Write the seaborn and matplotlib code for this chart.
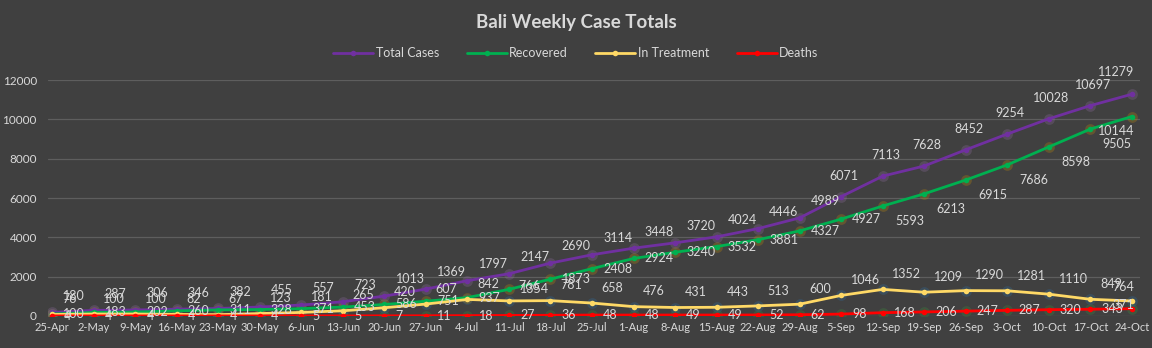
import matplotlib
matplotlib.use("Agg")
import matplotlib.pyplot as plt
import seaborn as sns
import pandas as pd

dates = ["25-Apr", "2-May", "9-May", "16-May", "23-May", "30-May", "6-Jun", "13-Jun",
         "20-Jun", "27-Jun", "4-Jul", "11-Jul", "18-Jul", "25-Jul", "1-Aug", "8-Aug",
         "15-Aug", "22-Aug", "29-Aug", "5-Sep", "12-Sep", "19-Sep", "26-Sep", "3-Oct",
         "10-Oct", "17-Oct", "24-Oct"]
total_cases = [180, 287, 306, 346, 382, 455, 557, 723, 1013, 1369, 1797, 2147, 2690, 3114,
               3448, 3720, 4024, 4446, 4989, 6071, 7113, 7628, 8452, 9254, 10028, 10697, 11279]
recovered = [100, 183, 202, 260, 311, 328, 371, 453, 586, 751, 937, 1354, 1873, 2408,
             2924, 3240, 3532, 3881, 4327, 4927, 5593, 6213, 6915, 7686, 8598, 9505, 10144]
in_treatment = [76, 100, 100, 82, 67, 123, 181, 265, 420, 607, 842, 766, 781, 658,
                476, 431, 443, 513, 600, 1046, 1352, 1209, 1290, 1281, 1110, 849, 764]
deaths = [4, 4, 4, 4, 4, 4, 5, 5, 7, 11, 18, 27, 36, 48,
          48, 49, 49, 52, 62, 98, 168, 206, 247, 287, 320, 343, 371]
series_names = ["Total Cases", "Recovered", "In Treatment", "Deaths"]

BG = "#404040"
TXT = "#d9d9d9"
colors = {"Total Cases": "#7030a0", "Recovered": "#00b050",
          "In Treatment": "#ffd966", "Deaths": "#ff0000"}
glows = {"Total Cases": "#8a6a9a", "Recovered": "#b8860b",
         "In Treatment": "#2f6da0", "Deaths": "#3a8a3a"}

rows = []
for name, vals in zip(series_names, [total_cases, recovered, in_treatment, deaths]):
    for i, (d, v) in enumerate(zip(dates, vals)):
        rows.append({"idx": i, "date": d, "value": v, "series": name})
df = pd.DataFrame(rows)

sns.set_theme(style="dark")
plt.rcParams["font.family"] = ["Lato", "DejaVu Sans"]

fig = plt.figure(figsize=(11.52, 3.48), dpi=100, facecolor=BG)
ax = fig.add_axes([0.0417, 0.092, 0.948, 0.678])
ax.set_facecolor(BG)

# glow behind markers
for name in series_names[::-1]:
    sub = df[df.series == name]
    ax.scatter(sub["idx"], sub["value"], s=60, color=glows[name], alpha=0.3,
               linewidths=0, zorder=2)

sns.lineplot(data=df, x="idx", y="value", hue="series", hue_order=series_names,
             palette=colors, marker="o", markersize=4, markeredgewidth=0,
             linewidth=2.0, sort=False, ax=ax, zorder=3)

ax.set_xlim(-0.1, 26.2)
ax.set_ylim(0, 12000)
ax.set_yticks(range(0, 12001, 2000))
ax.set_xticks(range(len(dates)))
ax.set_xticklabels(dates)
ax.tick_params(axis="x", colors=TXT, labelsize=8, length=0, pad=4)
ax.tick_params(axis="y", colors=TXT, labelsize=8.5, length=0, pad=8)
ax.set_xlabel("")
ax.set_ylabel("")
ax.grid(axis="y", color="#5e5e5e", linewidth=0.9)
ax.grid(axis="x", visible=False)
for s in ax.spines.values():
    s.set_visible(False)

lab_kw = dict(textcoords="offset points", color=TXT, fontsize=9, zorder=5)
last = len(dates) - 1
for i in range(len(dates)):
    if i == last:
        ax.annotate(str(total_cases[i]), (i, total_cases[i]), xytext=(2, 12),
                    ha="right", va="bottom", **lab_kw)
        ax.annotate(str(recovered[i]), (i, recovered[i]), xytext=(2, -6),
                    ha="right", va="top", **lab_kw)
        ax.annotate(str(in_treatment[i]), (i, in_treatment[i]), xytext=(2, 6),
                    ha="right", va="bottom", **lab_kw)
        ax.annotate(str(deaths[i]), (i, deaths[i]), xytext=(2, 3),
                    ha="right", va="center", **lab_kw)
        continue
    if i < 19:
        ax.annotate(str(total_cases[i]), (i, total_cases[i]), xytext=(8, 12),
                    ha="left", va="center", **lab_kw)
    else:
        ax.annotate(str(total_cases[i]), (i, total_cases[i]), xytext=(2, 15),
                    ha="center", va="center", **lab_kw)
    if i < 20:
        ax.annotate(str(recovered[i]), (i, recovered[i]), xytext=(8, 0),
                    ha="left", va="center", **lab_kw)
    else:
        ax.annotate(str(recovered[i]), (i, recovered[i]), xytext=(9, -11),
                    ha="left", va="center", **lab_kw)
    ax.annotate(str(in_treatment[i]), (i, in_treatment[i]), xytext=(7, 11),
                ha="left", va="center", **lab_kw)
    ax.annotate(str(deaths[i]), (i, deaths[i]), xytext=(8, 0),
                ha="left", va="center", **lab_kw)

handles, labels = ax.get_legend_handles_labels()
if ax.legend_:
    ax.legend_.remove()
fig.legend(handles, labels, loc="center", bbox_to_anchor=(0.5, 0.848), ncol=4,
           frameon=False, fontsize=9, labelcolor=TXT, handlelength=3.2,
           columnspacing=2.2, handletextpad=0.2)

fig.text(0.5, 0.935, "Bali Weekly Case Totals", ha="center", va="center",
         color=TXT, fontsize=13.5, fontweight="bold")

fig.savefig("out.png", dpi=100, facecolor=BG)
